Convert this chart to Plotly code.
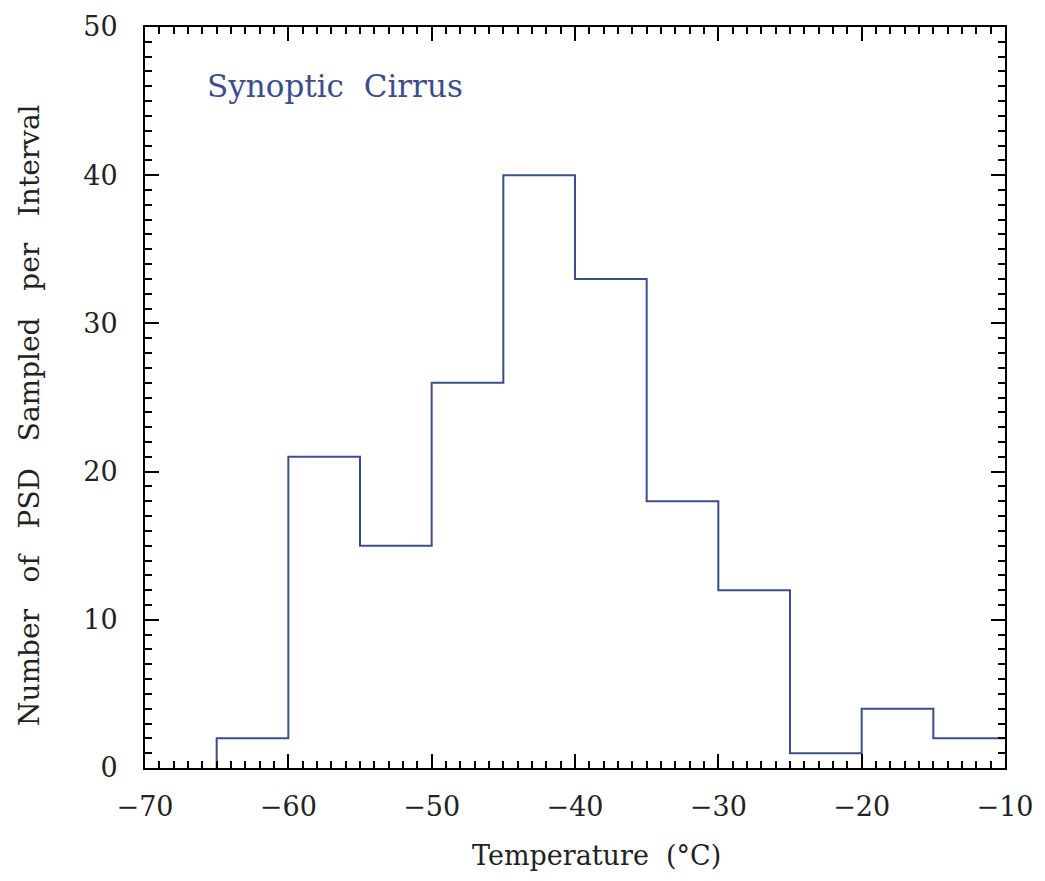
import plotly.graph_objects as go

# Temperature bin edges (°C) and number of particle size distributions per 5-degree interval
bin_edges = [-65, -60, -55, -50, -45, -40, -35, -30, -25, -20, -15, -10]
counts = [2, 21, 15, 26, 40, 33, 18, 12, 1, 4, 2]

x_ticks = [-70, -60, -50, -40, -30, -20, -10]
y_ticks = [0, 10, 20, 30, 40, 50]

line_blue = "#3c4d8c"
serif = "DejaVu Serif"
gap = "\u00a0\u00a0"  # wide word spacing in the labels

# Step outline: rise from zero at the first edge, then hold each count across its bin
step_x = [bin_edges[0]] + bin_edges
step_y = [0] + counts + [counts[-1]]

fig = go.Figure()
fig.add_trace(go.Scatter(
    x=step_x, y=step_y, mode="lines",
    line=dict(color=line_blue, width=2, shape="hv"),
    hoverinfo="skip", showlegend=False, cliponaxis=True,
))

axis_common = dict(
    showline=True, linewidth=2, linecolor="black", mirror="allticks",
    ticks="inside", ticklen=14, tickwidth=2, tickcolor="black",
    showgrid=False, zeroline=False,
    tickfont=dict(family=serif, size=27, color="#222222"),
    minor=dict(dtick=1, ticks="inside", ticklen=7, tickwidth=2, tickcolor="black"),
)

fig.update_xaxes(range=[-70, -10], tickvals=x_ticks, ticklabelstandoff=14, **axis_common)
fig.update_yaxes(range=[0, 50], tickvals=y_ticks, ticklabelstandoff=20, **axis_common)

title_font = dict(family=serif, size=27, color="#222222")

# Axis titles placed as paper annotations
fig.add_annotation(
    text=gap.join(["Temperature", "(°C)"]), xref="paper", yref="paper",
    x=0.525, y=-0.118, xanchor="center", yanchor="middle", showarrow=False,
    font=title_font,
)
fig.add_annotation(
    text=(gap + "\u00a0").join(["Number", "of", "PSD", "Sampled", "per", "Interval"]),
    xref="paper", yref="paper", x=-0.134, y=0.476, textangle=-90,
    xanchor="center", yanchor="middle", showarrow=False,
    font=dict(family=serif, size=28, color="#222222"),
)

fig.add_annotation(
    text=gap.join(["Synoptic", "Cirrus"]), xref="paper", yref="paper",
    x=0.07, y=0.92, xanchor="left", yanchor="middle", showarrow=False,
    font=dict(family=serif, size=31, color=line_blue),
)

fig.update_layout(
    width=1045, height=881,
    margin=dict(l=145, r=40, t=27, b=113),
    paper_bgcolor="white", plot_bgcolor="white",
)

fig.write_html("out.html")
